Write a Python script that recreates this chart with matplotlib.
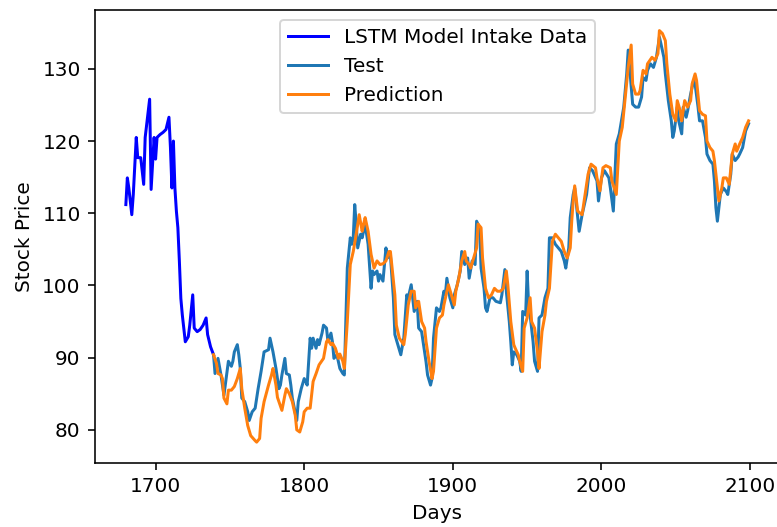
import matplotlib
matplotlib.use("Agg")
import matplotlib.pyplot as plt

# last 60 days the model sees before the test window
intake_days = [1680, 1681, 1682, 1684, 1685, 1687, 1688, 1690, 1692, 1693, 1696, 1697,
               1699, 1700, 1701, 1703, 1705, 1707, 1709, 1710, 1711, 1712, 1713, 1714,
               1715, 1716, 1717, 1718, 1720, 1722, 1723, 1725, 1726, 1728, 1730, 1732,
               1734, 1735, 1737, 1739]
intake_price = [111.2, 114.9, 113.5, 109.8, 112.6, 120.5, 117.7, 117.7, 114.0, 120.5, 125.8, 113.3,
                120.5, 117.5, 120.5, 120.9, 121.2, 121.6, 123.3, 119.1, 113.5, 120.0, 113.5, 110.3,
                108.0, 103.4, 98.2, 95.9, 92.2, 92.9, 94.5, 98.7, 94.1, 93.6, 93.9, 94.5,
                95.5, 93.2, 91.5, 90.4]

test_days = [1739, 1740, 1742, 1744, 1745, 1746, 1749, 1751, 1752, 1753, 1755, 1756, 1757, 1758,
             1760, 1762, 1763, 1765, 1767, 1769, 1771, 1773, 1776, 1777, 1779, 1781, 1783, 1784,
             1785, 1787, 1788, 1790, 1791, 1792, 1795, 1796, 1798, 1800, 1801, 1802, 1804, 1805,
             1806, 1808, 1809, 1810, 1812, 1813, 1815, 1816, 1818, 1819, 1820, 1822, 1824, 1826,
             1827, 1829, 1831, 1832, 1833, 1834, 1835, 1836, 1838, 1839, 1841, 1843, 1845, 1846,
             1847, 1849, 1850, 1851, 1853, 1855, 1856, 1858, 1860, 1861, 1863, 1865, 1867, 1869,
             1870, 1872, 1874, 1876, 1877, 1879, 1880, 1882, 1883, 1885, 1886, 1887, 1889, 1891,
             1892, 1894, 1895, 1896, 1898, 1900, 1901, 1903, 1905, 1906, 1908, 1910, 1911, 1913,
             1915, 1916, 1918, 1919, 1921, 1922, 1923, 1925, 1927, 1929, 1932, 1933, 1935, 1936,
             1938, 1939, 1940, 1941, 1943, 1945, 1946, 1947, 1949, 1950, 1951, 1952, 1954, 1955,
             1957, 1958, 1960, 1962, 1964, 1965, 1967, 1969, 1971, 1973, 1975, 1976, 1978, 1979,
             1981, 1982, 1984, 1985, 1987, 1990, 1992, 1994, 1997, 1998, 2000, 2002, 2005, 2006,
             2008, 2010, 2012, 2015, 2017, 2018, 2020, 2021, 2023, 2025, 2027, 2028, 2030, 2031,
             2033, 2035, 2037, 2039, 2040, 2042, 2043, 2045, 2047, 2048, 2049, 2051, 2052, 2054,
             2055, 2057, 2058, 2060, 2062, 2063, 2065, 2066, 2068, 2070, 2071, 2073, 2075, 2076,
             2077, 2078, 2079, 2080, 2082, 2084, 2085, 2087, 2088, 2090, 2092, 2093, 2095, 2097,
             2099]
test_price = [90.4, 87.8, 89.9, 87.6, 86.2, 84.8, 89.5, 88.8, 89.5, 90.8, 91.8, 90.4, 88.5, 84.4,
              83.9, 82.5, 81.3, 82.5, 83.0, 85.7, 88.1, 90.8, 91.1, 92.7, 90.8, 88.5, 85.7, 86.2,
              87.6, 89.9, 87.8, 87.6, 86.2, 84.4, 81.3, 83.9, 85.7, 87.1, 86.7, 86.2, 92.7, 91.3,
              92.7, 91.3, 92.5, 91.8, 93.4, 94.5, 94.1, 92.2, 93.4, 92.2, 89.9, 90.4, 88.5, 87.8,
              87.6, 102.4, 106.6, 105.7, 106.6, 111.2, 108.5, 105.2, 107.1, 106.6, 108.5, 105.7, 99.6, 102.0,
              101.5, 102.0, 100.6, 101.5, 100.6, 105.2, 103.8, 104.2, 98.3, 93.2, 91.8, 90.4, 92.7, 98.7,
              98.3, 100.1, 96.4, 97.8, 94.1, 93.6, 92.2, 89.4, 87.6, 86.2, 87.1, 92.7, 96.9, 96.4,
              96.9, 99.2, 98.7, 101.0, 98.3, 96.9, 98.7, 100.1, 102.0, 104.7, 102.9, 103.8, 101.0, 103.4,
              102.9, 108.9, 108.0, 102.4, 99.6, 96.9, 96.4, 98.3, 98.3, 97.8, 97.6, 98.7, 102.2, 99.2,
              95.0, 92.2, 89.0, 90.8, 90.4, 89.5, 88.1, 96.4, 95.9, 102.0, 97.3, 95.9, 92.2, 89.5,
              88.1, 95.5, 95.9, 98.3, 99.6, 106.6, 106.6, 105.7, 105.2, 104.7, 103.4, 102.4, 105.2, 109.4,
              112.6, 113.5, 109.4, 107.5, 109.8, 112.6, 116.3, 115.9, 114.5, 111.7, 114.9, 115.9, 114.9, 113.5,
              110.3, 119.6, 121.0, 124.7, 129.3, 132.6, 127.5, 125.1, 124.7, 124.7, 126.1, 128.8, 128.4, 129.8,
              130.7, 130.2, 131.6, 134.4, 133.5, 131.6, 129.3, 125.6, 122.8, 120.5, 121.4, 124.7, 122.8, 121.0,
              124.7, 123.3, 124.2, 126.5, 128.4, 127.9, 124.7, 122.8, 122.8, 120.5, 118.2, 117.3, 116.8, 114.5,
              110.8, 108.9, 110.8, 112.6, 113.5, 113.0, 112.6, 115.4, 118.2, 117.3, 117.8, 118.2, 119.1, 121.4,
              122.4]

pred_days = [1739, 1741, 1742, 1744, 1745, 1746, 1748, 1749, 1751, 1753, 1755, 1757, 1758, 1760,
             1762, 1764, 1767, 1768, 1770, 1771, 1773, 1776, 1778, 1779, 1781, 1782, 1785, 1787,
             1788, 1790, 1792, 1794, 1795, 1797, 1799, 1800, 1802, 1804, 1806, 1808, 1810, 1813,
             1815, 1816, 1818, 1819, 1821, 1823, 1824, 1826, 1827, 1829, 1831, 1833, 1835, 1837,
             1839, 1840, 1841, 1843, 1845, 1847, 1849, 1851, 1853, 1855, 1857, 1858, 1861, 1862,
             1864, 1867, 1868, 1870, 1872, 1874, 1875, 1877, 1879, 1881, 1882, 1884, 1886, 1887,
             1889, 1891, 1893, 1894, 1896, 1897, 1899, 1901, 1902, 1904, 1906, 1908, 1909, 1911,
             1912, 1914, 1916, 1917, 1919, 1920, 1922, 1924, 1926, 1928, 1930, 1932, 1934, 1936,
             1937, 1939, 1941, 1942, 1944, 1945, 1947, 1948, 1950, 1952, 1953, 1955, 1957, 1958,
             1960, 1962, 1963, 1965, 1967, 1969, 1971, 1973, 1975, 1977, 1979, 1980, 1981, 1982,
             1984, 1987, 1989, 1991, 1993, 1996, 1997, 1999, 2001, 2003, 2006, 2007, 2010, 2012,
             2014, 2016, 2018, 2020, 2021, 2023, 2025, 2026, 2028, 2030, 2031, 2034, 2036, 2038,
             2039, 2041, 2043, 2044, 2046, 2048, 2050, 2051, 2053, 2054, 2056, 2058, 2060, 2061,
             2063, 2064, 2066, 2068, 2070, 2071, 2073, 2075, 2076, 2078, 2079, 2081, 2082, 2084,
             2086, 2088, 2090, 2091, 2093, 2095, 2097, 2099]
pred_price = [90.4, 89.2, 87.8, 87.6, 87.1, 84.4, 83.6, 85.5, 85.5, 86.0, 87.1, 88.5, 85.7, 83.0,
              80.6, 79.2, 78.5, 78.3, 78.8, 81.6, 83.9, 86.2, 87.6, 88.5, 86.2, 84.5, 82.7, 84.8,
              85.7, 85.0, 83.9, 82.0, 80.0, 79.7, 81.1, 82.5, 83.0, 83.0, 86.7, 87.8, 89.0, 89.9,
              92.2, 92.5, 91.8, 92.0, 91.3, 89.9, 90.5, 89.5, 88.5, 95.0, 102.9, 104.7, 107.1, 109.8,
              107.5, 108.5, 109.4, 107.5, 104.3, 102.4, 103.4, 102.9, 103.0, 103.4, 104.7, 104.7, 98.7, 94.5,
              92.7, 91.8, 93.2, 97.3, 99.2, 99.2, 96.9, 97.8, 95.0, 94.1, 92.2, 89.5, 87.1, 88.1,
              94.1, 95.5, 95.9, 97.3, 99.2, 100.1, 98.7, 97.3, 99.2, 101.0, 103.4, 104.7, 103.4, 102.9,
              102.4, 103.8, 105.2, 108.5, 108.0, 103.8, 99.6, 98.3, 98.7, 99.6, 99.2, 99.2, 99.6, 102.0,
              100.1, 95.0, 91.8, 91.3, 90.4, 89.5, 88.1, 94.1, 95.5, 98.3, 95.0, 94.1, 90.8, 88.5,
              93.6, 95.9, 97.8, 99.6, 106.1, 107.1, 106.6, 106.1, 104.7, 103.8, 105.2, 108.9, 111.7, 113.8,
              110.3, 109.8, 112.6, 115.4, 116.8, 116.3, 114.9, 113.1, 116.3, 116.6, 116.3, 114.5, 112.6, 120.0,
              121.9, 126.1, 130.2, 133.3, 127.9, 126.5, 126.5, 127.0, 129.8, 129.3, 130.7, 131.6, 131.2, 132.1,
              135.3, 134.9, 133.9, 130.7, 126.5, 123.7, 122.8, 125.6, 124.2, 122.8, 125.6, 124.7, 125.6, 127.9,
              129.3, 128.4, 124.2, 123.7, 123.5, 120.0, 119.1, 118.6, 117.3, 113.5, 111.7, 113.5, 114.9, 114.9,
              114.0, 118.2, 119.6, 118.6, 119.6, 120.5, 121.9, 122.8]

fig = plt.figure(figsize=(777 / 144, 527 / 144), dpi=144)
ax = fig.add_axes([0.1219, 0.122, 0.8816, 0.859])

ax.plot(intake_days, intake_price, color="blue", label="LSTM Model Intake Data")
ax.plot(test_days, test_price, label="Test")
ax.plot(pred_days, pred_price, label="Prediction")

ax.set_xlabel("Days")
ax.set_ylabel("Stock Price")
ax.legend(loc="upper center")

fig.savefig("out.png", dpi=144)
